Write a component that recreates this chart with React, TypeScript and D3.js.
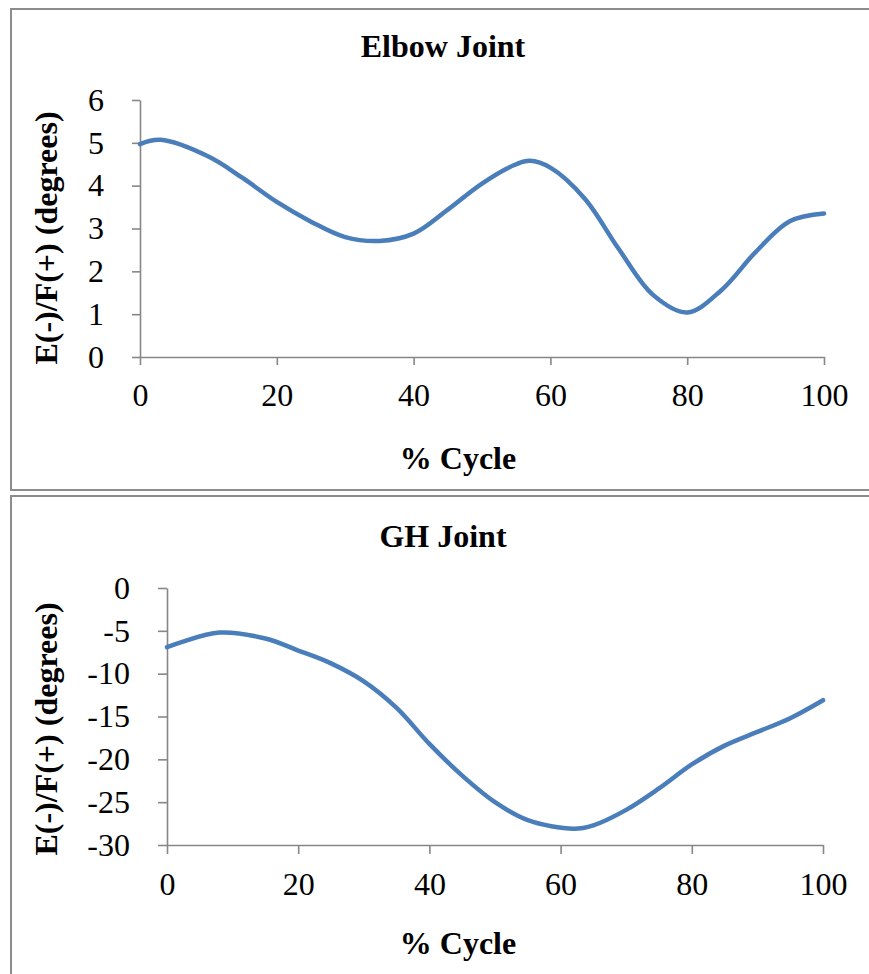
import React, { useRef, useEffect } from "react";
import * as d3 from "d3";

// % cycle positions and joint angles
const elbowCycle = [0, 3, 10, 15, 20, 25, 30, 35, 40, 45, 50, 55, 57, 60, 65, 70, 75, 80, 85, 90, 95, 100];
const elbowAngle = [4.97, 5.07, 4.68, 4.18, 3.62, 3.16, 2.8, 2.71, 2.88, 3.44, 4.05, 4.5, 4.58, 4.42, 3.7, 2.52, 1.45, 1.04, 1.56, 2.45, 3.17, 3.35];

const ghCycle = [0, 8, 15, 20, 25, 30, 35, 40, 45, 50, 55, 62, 65, 70, 75, 80, 85, 90, 95, 100];
const ghAngle = [-6.9, -5.2, -5.9, -7.3, -8.8, -10.9, -14.0, -18.2, -21.9, -25.0, -27.1, -28.1, -27.7, -25.9, -23.4, -20.6, -18.4, -16.8, -15.2, -13.1];

const xTicks = [0, 20, 40, 60, 80, 100];
const elbowTicks = [0, 1, 2, 3, 4, 5, 6];
const ghTicks = [-30, -25, -20, -15, -10, -5, 0];

const FONT = "'Liberation Serif', 'Times New Roman', serif";
const AXIS = "#878787";
const BLUE = "#4a7ebb";

function drawPanel(g, opts) {
    const { title, xs, ys, yDomain, yTicks, left, right, top, bottom, yLabelY, titleY, xTitleY, tick } = opts;

    const xScale = d3.scaleLinear().domain([0, 100]).range([left, right]);
    const yScale = d3.scaleLinear().domain(yDomain).range([bottom, top]);

    // plain hyphen minus like the original
    const fmt = d => String(d);
    const yAxis = d3.axisLeft(yScale).tickValues(yTicks).tickFormat(fmt).tickSize(tick).tickSizeOuter(0).tickPadding(28);
    const xAxis = d3.axisBottom(xScale).tickValues(xTicks).tickFormat(fmt).tickSize(tick).tickSizeOuter(0).tickPadding(18);

    const ya = g.append("g").attr("transform", `translate(${left},0)`).call(yAxis);
    const xa = g.append("g").attr("transform", `translate(0,${bottom})`).call(xAxis);

    [ya, xa].forEach(a => {
        a.select(".domain").attr("stroke", AXIS).attr("stroke-width", 1.6);
        a.selectAll(".tick line").attr("stroke", AXIS).attr("stroke-width", 1.6);
        a.selectAll("text").attr("font-family", FONT).attr("font-size", 32).attr("fill", "#000");
    });

    const pts = xs.map((x, i) => [x, ys[i]]);
    const myLine = d3.line()
        .x(d => xScale(d[0]))
        .y(d => yScale(d[1]))
        .curve(d3.curveCatmullRom.alpha(0.5));

    g.append("path")
        .attr("d", myLine(pts))
        .attr("fill", "none")
        .attr("stroke", BLUE)
        .attr("stroke-width", 4.5)
        .attr("stroke-linecap", "round");

    g.append("text")
        .attr("x", 443).attr("y", titleY)
        .attr("text-anchor", "middle")
        .attr("font-family", FONT).attr("font-size", 32).attr("font-weight", "bold")
        .text(title);

    g.append("text")
        .attr("x", 458).attr("y", xTitleY)
        .attr("text-anchor", "middle")
        .attr("font-family", FONT).attr("font-size", 32).attr("font-weight", "bold")
        .text("% Cycle");

    g.append("text")
        .attr("transform", `translate(57,${yLabelY}) rotate(-90)`)
        .attr("text-anchor", "middle")
        .attr("font-family", FONT).attr("font-size", 32).attr("font-weight", "bold")
        .text("E(-)/F(+) (degrees)");
}

export default function App() {
    const svgRef = useRef(null);

    useEffect(() => {
        const svg = d3.select(svgRef.current);
        svg.selectAll("*").remove();

        // panel frames (right and lower edges run off the picture)
        svg.append("rect").attr("x", 11).attr("y", 9).attr("width", 900).attr("height", 481)
            .attr("fill", "#fff").attr("stroke", "#8c8c8c").attr("stroke-width", 2);
        svg.append("rect").attr("x", 11).attr("y", 496).attr("width", 900).attr("height", 520)
            .attr("fill", "#fff").attr("stroke", "#8c8c8c").attr("stroke-width", 2);

        drawPanel(svg.append("g"), {
            title: "Elbow Joint", xs: elbowCycle, ys: elbowAngle,
            yDomain: [0, 6], yTicks: elbowTicks,
            left: 140, right: 824, top: 100, bottom: 357, tick: 8,
            titleY: 57, xTitleY: 469, yLabelY: 238,
        });
        drawPanel(svg.append("g"), {
            title: "GH Joint", xs: ghCycle, ys: ghAngle,
            yDomain: [-30, 0], yTicks: ghTicks,
            left: 167, right: 823, top: 588, bottom: 845, tick: 9,
            titleY: 547, xTitleY: 954, yLabelY: 729,
        });
    }, []);

    return (
        <svg ref={svgRef} width={869} height={974}
            style={{ position: "absolute", left: 0, top: 0, background: "#fff" }} />
    );
}
